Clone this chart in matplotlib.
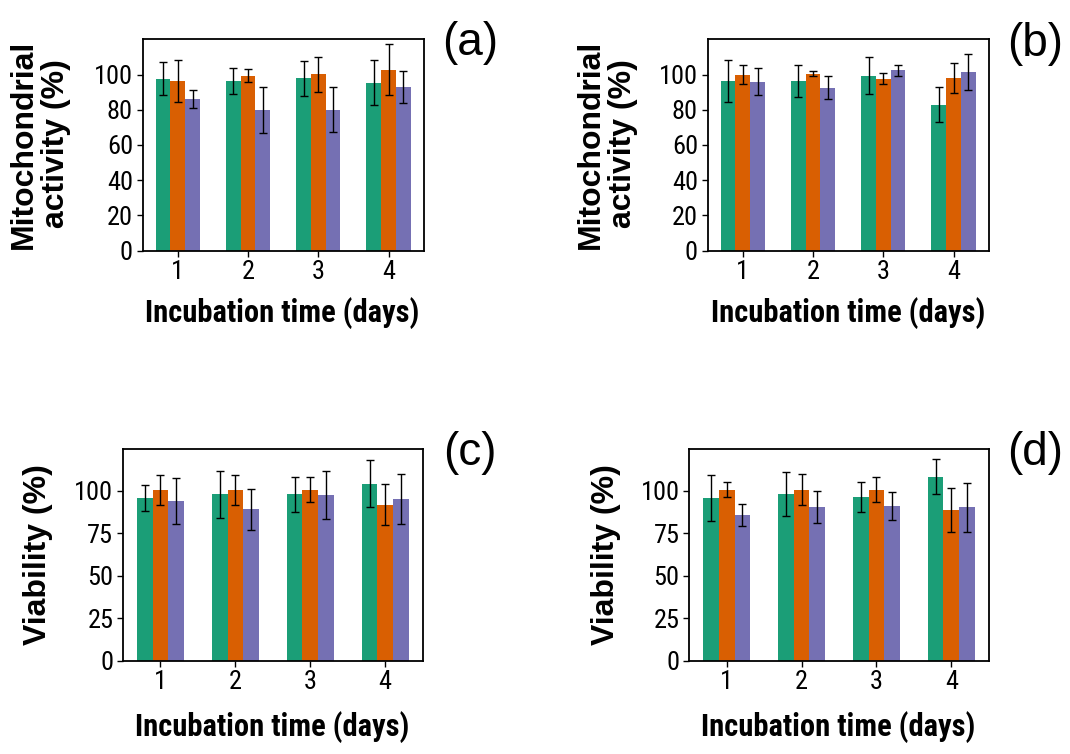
import numpy as np
import matplotlib
matplotlib.use('Agg')
import matplotlib.pyplot as plt
from matplotlib import font_manager

names = {f.name for f in font_manager.fontManager.ttflist}
NARROW = 'DejaVu Sans'
for cand in ['Roboto Condensed', 'Archivo Narrow', 'PT Sans Narrow', 'Barlow Condensed']:
    if cand in names:
        NARROW = cand
        break
SANS = 'Liberation Sans'

days = [1, 2, 3, 4]
colors = ['#1b9e77', '#d95f02', '#7570b3']

# (a) mitochondrial activity
a_mean = [[97.6, 96.4, 97.9, 95.3],
          [96.4, 99.4, 100.2, 102.8],
          [86.1, 79.7, 80.1, 92.9]]
a_err = [[9.5, 7.5, 10.0, 12.7],
         [11.8, 3.7, 10.0, 14.6],
         [5.0, 13.0, 12.7, 9.0]]

# (b) mitochondrial activity
b_mean = [[96.4, 96.2, 99.4, 82.9],
          [100.0, 100.4, 97.7, 97.9],
          [96.0, 92.5, 102.3, 101.5]]
b_err = [[11.8, 9.0, 10.6, 10.0],
         [5.6, 1.5, 3.0, 8.5],
         [7.5, 6.6, 3.0, 10.3]]

# (c) viability
c_mean = [[95.9, 98.0, 98.0, 104.3],
          [100.8, 100.8, 100.8, 91.8],
          [94.1, 89.2, 97.5, 95.1]]
c_err = [[7.5, 14.0, 10.5, 14.0],
         [8.8, 8.8, 7.5, 12.0],
         [13.8, 12.0, 14.0, 14.6]]

# (d) viability
d_mean = [[95.7, 98.0, 96.5, 108.4],
          [100.8, 100.8, 100.8, 88.8],
          [85.9, 90.4, 91.0, 90.4]]
d_err = [[13.7, 13.0, 9.0, 10.3],
         [4.6, 8.9, 7.6, 13.1],
         [6.7, 9.4, 8.4, 14.5]]

panels = [
    ('(a)', a_mean, a_err, 'Mitochondrial\nactivity (%)', 120, [0, 20, 40, 60, 80, 100],
     [142.7, 39.3, 423.7, 250.7], (40, 144), (282, 313), (470, 43)),
    ('(b)', b_mean, b_err, 'Mitochondrial\nactivity (%)', 120, [0, 20, 40, 60, 80, 100],
     [707.7, 39.3, 988.7, 250.7], (607, 144), (848, 313), (1035, 44)),
    ('(c)', c_mean, c_err, 'Viability (%)', 125, [0, 25, 50, 75, 100],
     [123.0, 448.5, 422.7, 660.7], (38, 555), (272, 727), (470, 453)),
    ('(d)', d_mean, d_err, 'Viability (%)', 125, [0, 25, 50, 75, 100],
     [689.3, 448.5, 988.7, 660.7], (606, 555), (838, 727), (1035, 453)),
]

W, H = 1070, 754
fig = plt.figure(figsize=(W / 100, H / 100), dpi=100)
x = np.array(days)
bw = 0.21

for tag, mean, err, ylab, ytop, yt, box, ylpos, xlpos, tagpos in panels:
    l, t, r, b = box
    ax = fig.add_axes([l / W, 1 - b / H, (r - l) / W, (b - t) / H])
    for i in range(3):
        xi = x + (i - 1) * bw
        ax.bar(xi, mean[i], bw, color=colors[i], zorder=2)
        ax.errorbar(xi, mean[i], yerr=err[i], fmt='none', ecolor='black',
                    elinewidth=1, capsize=2.7, capthick=1, zorder=3)
    ax.set_xlim(0.5, 4.5)
    ax.set_ylim(0, ytop)
    ax.set_xticks(days)
    ax.set_yticks(yt)
    ax.tick_params(length=4, width=1, labelsize=19, pad=3)
    for lab in ax.get_xticklabels() + ax.get_yticklabels():
        lab.set_family(NARROW)
    for s in ax.spines.values():
        s.set_linewidth(1.3)
    fig.text(ylpos[0] / W, 1 - ylpos[1] / H, ylab, rotation=90, ha='center', va='center',
             fontsize=23, fontweight='bold', family=SANS, linespacing=1.12)
    fig.text(xlpos[0] / W, 1 - xlpos[1] / H, 'Incubation time (days)', ha='center', va='center',
             fontsize=22, fontweight='bold', family=NARROW)
    fig.text(tagpos[0] / W, 1 - tagpos[1] / H, tag, ha='center', va='center',
             fontsize=33, family=SANS)

fig.savefig('out.png', dpi=100)
